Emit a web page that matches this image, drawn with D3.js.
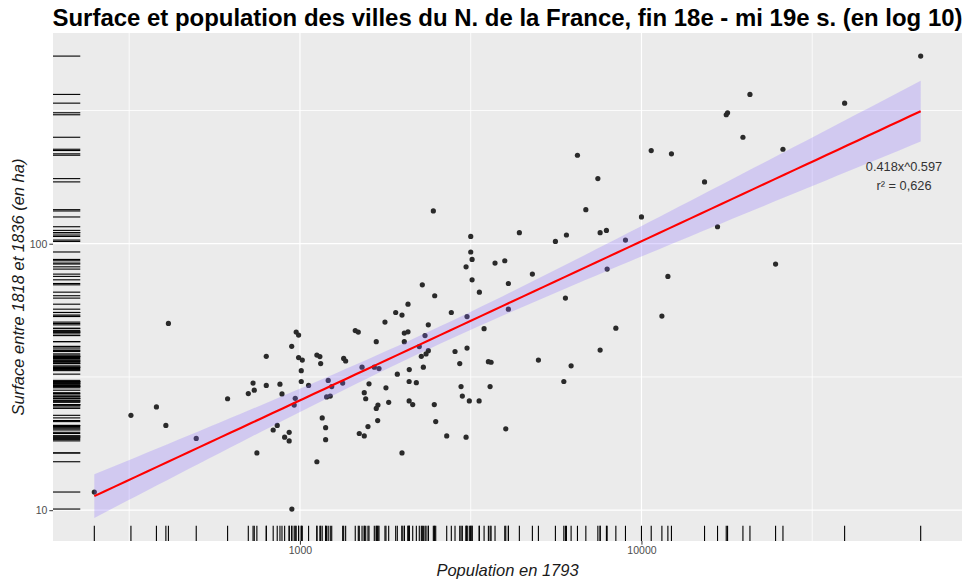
<!DOCTYPE html>
<html><head><meta charset="utf-8">
<script src="https://cdn.jsdelivr.net/npm/d3@7"></script>
<style>
body{margin:0;background:#fff}
svg{display:block}
text{font-family:"Liberation Sans",Arial,sans-serif}
</style>
</head><body>
<svg id="c" width="967" height="579"></svg>
<script>
// ---------- data ----------
const population = [
412, 320, 380, 405, 497, 250, 614, 706, 729, 735,
797, 797, 748, 874, 886, 835, 858, 902, 930, 930,
946, 975, 991, 991, 1016, 1009, 1009, 969, 962, 947,
1060, 1121, 1144, 1150, 1210, 1197, 1227, 1239, 1162, 1189,
1189, 1121, 1334, 1343, 1361, 1452, 1482, 1520, 1543, 1558,
1593, 1492, 1543, 1582, 1673, 1673, 1692, 1689, 1651, 1704,
7453, 2458, 6873, 10000, 3163, 4390, 5598, 6030, 7568, 7896,
8978, 3163, 3192, 3065, 3726, 3979, 3192, 4077, 4793, 7934,
11950, 2282, 2481, 3353, 5989, 4077, 1907, 1990, 2072, 1774,
2775, 2376, 3085, 3461, 2021, 2072, 2021, 2324, 2236, 2376,
2340, 2267, 2298, 2090, 1928, 2088, 2192, 1786, 1819, 2088,
2139, 1990, 2474, 2498, 2690, 2845, 2937, 3085, 2963, 2989,
3133, 3065, 3347, 3563, 3628, 3604, 4006, 4992, 6223, 5925,
7568, 8414, 11477, 6495, 65700, 20780, 17710, 17870, 39340, 10680,
12240, 19820, 25960, 15300, 16700, 24700];
const surface = [
50.2, 22.7, 24.4, 20.8, 18.6, 11.7, 26.2, 27.4, 30.0, 28.2,
37.8, 29.4, 16.4, 29.7, 27.3, 20.0, 20.8, 18.8, 19.6, 18.2,
41.2, 46.6, 45.4, 37.4, 36.6, 33.4, 30.4, 26.3, 24.8, 10.1,
29.4, 38.2, 37.7, 35.5, 30.7, 26.6, 26.8, 29.1, 22.2, 20.4,
18.4, 15.2, 30.0, 37.1, 36.3, 47.2, 46.6, 34.4, 27.6, 26.2,
29.8, 19.4, 19.0, 20.6, 42.9, 24.1, 24.8, 21.7, 34.4, 34.0,
175.5, 132.7, 134.2, 126.0, 106.5, 110.0, 102.0, 107.8, 110.0, 112.2,
103.2, 93.1, 87.3, 81.9, 84.6, 86.3, 73.2, 70.9, 76.9, 80.3,
75.4, 70.1, 63.8, 65.8, 62.5, 56.8, 55.2, 54.0, 59.3, 50.8,
55.2, 49.6, 53.3, 48.0, 46.2, 46.7, 42.9, 45.2, 41.1, 39.7,
38.6, 37.8, 34.4, 33.7, 32.4, 30.4, 30.1, 28.8, 25.4, 25.7,
24.9, 16.4, 24.9, 21.5, 19.0, 39.4, 35.5, 40.6, 29.1, 26.8,
25.7, 18.8, 25.7, 36.1, 35.9, 29.1, 20.2, 36.6, 34.8, 30.4,
39.9, 48.2, 53.5, 214.8, 505.9, 363.3, 304.7, 310.0, 336.9, 223.7,
217.4, 250.9, 226.2, 170.6, 115.8, 83.9];
const xTickValues = [1000, 10000];
const yTickValues = [10, 100];
const fitCoef = [0.418, 0.597];           // a * x^b
const fitLabels = ["0.418x^0.597", "r\u00B2 = 0,626"];
const titleText = "Surface et population des villes du N. de la France, fin 18e - mi 19e s. (en log 10)";
const xTitleText = "Population en 1793";
const yTitleText = "Surface entre 1818 et 1836 (en ha)";

// ---------- layout ----------
const W = 967, H = 579;
const P = {left: 53, right: 962, top: 33, bottom: 541};
const svg = d3.select("#c");

// ---------- fit & confidence band (log10 space) ----------
const lx = population.map(Math.log10), ly = surface.map(Math.log10);
const n = lx.length;
const xbar = d3.mean(lx);
const Sxx = d3.sum(lx, v => (v - xbar) ** 2);
const la = Math.log10(fitCoef[0]), b = fitCoef[1];
const pred = v => la + b * v;
const s = Math.sqrt(d3.sum(lx, (v, i) => (ly[i] - pred(v)) ** 2) / (n - 2));
const tq = 1.976;
const [xmin, xmax] = d3.extent(lx);
const band = d3.range(80).map(i => {
  const v = xmin + (xmax - xmin) * i / 79;
  const se = s * Math.sqrt(1 / n + (v - xbar) ** 2 / Sxx);
  return {x: v, y: pred(v), lo: pred(v) - tq * se, hi: pred(v) + tq * se};
});

// ---------- scales (ggplot 5% expansion) ----------
const xr = xmax - xmin;
const yLo = Math.min(d3.min(ly), d3.min(band, d => d.lo));
const yHi = Math.max(d3.max(ly), d3.max(band, d => d.hi));
const yrr = yHi - yLo;
const x = d3.scaleLog().domain([10 ** (xmin - 0.05 * xr), 10 ** (xmax + 0.05 * xr)]).range([P.left, P.right]);
const y = d3.scaleLog().domain([10 ** (yLo - 0.05 * yrr), 10 ** (yHi + 0.05 * yrr)]).range([P.bottom, P.top]);

// ---------- panel ----------
svg.append("rect").attr("x", P.left).attr("y", P.top)
  .attr("width", P.right - P.left).attr("height", P.bottom - P.top).attr("fill", "#EBEBEB");

const g = svg.append("g");
const xMinor = [], yMinor = [];
for (let e = 0; e < 7; e++) { const m = 10 ** (e + 0.5); if (m > x.domain()[0] && m < x.domain()[1]) xMinor.push(m); if (m > y.domain()[0] && m < y.domain()[1]) yMinor.push(m); }
g.selectAll(".xm").data(xMinor).join("line").attr("x1", d => x(d)).attr("x2", d => x(d))
  .attr("y1", P.top).attr("y2", P.bottom).attr("stroke", "#fff").attr("stroke-width", 0.8);
g.selectAll(".ym").data(yMinor).join("line").attr("y1", d => y(d)).attr("y2", d => y(d))
  .attr("x1", P.left).attr("x2", P.right).attr("stroke", "#fff").attr("stroke-width", 0.8);
g.selectAll(".xM").data(xTickValues).join("line").attr("x1", d => x(d)).attr("x2", d => x(d))
  .attr("y1", P.top).attr("y2", P.bottom).attr("stroke", "#fff").attr("stroke-width", 1.2);
g.selectAll(".yM").data(yTickValues).join("line").attr("y1", d => y(d)).attr("y2", d => y(d))
  .attr("x1", P.left).attr("x2", P.right).attr("stroke", "#fff").attr("stroke-width", 1.2);

// ---------- points ----------
const pts = population.map((p, i) => ({p, s: surface[i]}));
svg.append("g").selectAll("circle").data(pts).join("circle")
  .attr("cx", d => x(d.p)).attr("cy", d => y(d.s)).attr("r", 2.6).attr("fill", "#2a2a2a");

// ---------- ribbon & line ----------
svg.append("path").datum(band)
  .attr("d", d3.area().x(d => x(10 ** d.x)).y0(d => y(10 ** d.lo)).y1(d => y(10 ** d.hi)))
  .attr("fill", "rgb(140,110,255)").attr("fill-opacity", 0.27);
svg.append("path").datum(band)
  .attr("d", d3.line().x(d => x(10 ** d.x)).y(d => y(10 ** d.y)))
  .attr("fill", "none").attr("stroke", "#FF0000").attr("stroke-width", 2.1);

// ---------- rugs ----------
const rugLenX = 0.03 * (P.bottom - P.top), rugLenY = 0.03 * (P.right - P.left);
svg.append("g").selectAll("line").data(pts).join("line")
  .attr("x1", d => x(d.p)).attr("x2", d => x(d.p)).attr("y1", P.bottom).attr("y2", P.bottom - rugLenX)
  .attr("stroke", "#000").attr("stroke-width", 1.1);
svg.append("g").selectAll("line").data(pts).join("line")
  .attr("y1", d => y(d.s)).attr("y2", d => y(d.s)).attr("x1", P.left).attr("x2", P.left + rugLenY)
  .attr("stroke", "#000").attr("stroke-width", 1.1);

// ---------- annotation ----------
const ann = svg.append("g").attr("font-size", 12.8).attr("fill", "#333").attr("text-anchor", "middle");
ann.append("text").attr("x", 904).attr("y", 170.5).text(fitLabels[0]);
ann.append("text").attr("x", 904).attr("y", 189.5).text(fitLabels[1]);

// ---------- axes ----------
const ax = svg.append("g").attr("transform", `translate(0,${P.bottom})`)
  .call(d3.axisBottom(x).tickValues(xTickValues).tickFormat(d3.format("d")).tickSize(3.7).tickPadding(2));
const ay = svg.append("g").attr("transform", `translate(${P.left},0)`)
  .call(d3.axisLeft(y).tickValues(yTickValues).tickFormat(d3.format("d")).tickSize(3.7).tickPadding(2));
[ax, ay].forEach(a => {
  a.select(".domain").remove();
  a.selectAll(".tick line").attr("stroke", "#333").attr("stroke-width", 1);
  a.selectAll(".tick text").attr("fill", "#4D4D4D").attr("font-size", 10.5)
    .attr("font-family", '"Liberation Sans",Arial,sans-serif');
});

// ---------- titles ----------
svg.append("text").attr("x", (P.left + P.right) / 2).attr("y", 26).attr("text-anchor", "middle")
  .attr("font-size", 24).attr("font-weight", "bold").attr("fill", "#000")
  .attr("textLength", 910).attr("lengthAdjust", "spacingAndGlyphs").text(titleText);
svg.append("text").attr("x", (P.left + P.right) / 2).attr("y", 576).attr("text-anchor", "middle")
  .attr("font-size", 16.5).attr("font-style", "italic").attr("fill", "#1a1a1a").text(xTitleText);
svg.append("text").attr("transform", `translate(24,${(P.top + P.bottom) / 2}) rotate(-90)`)
  .attr("text-anchor", "middle").attr("font-size", 16.5).attr("font-style", "italic").attr("fill", "#1a1a1a")
  .text(yTitleText);
</script>
</body></html>
